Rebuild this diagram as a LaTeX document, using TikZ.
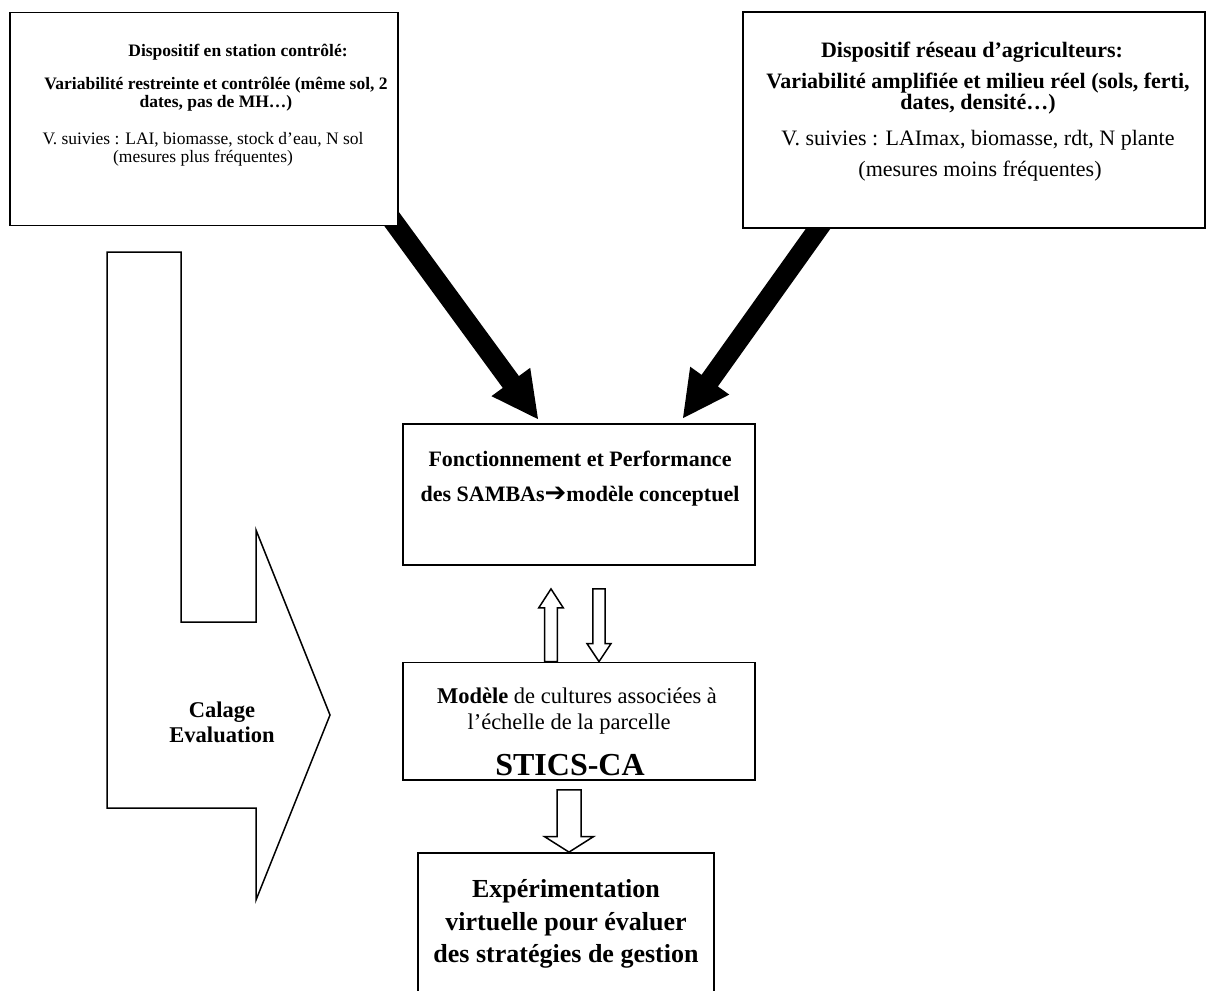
\documentclass[tikz,border=0pt]{standalone}
\usepackage{fontspec}
\setmainfont{Liberation Serif}
\newfontfamily\dejavu{DejaVu Sans}
\usetikzlibrary{calc,backgrounds}
\newcommand{\setfs}[2]{\fontsize{#1}{#2}\selectfont}
\newcommand{\blockarr}[7]{%
  \coordinate (#1b) at ($(#4)!#7!(#3)$);
  \path[#2] ($(#3)!#5!90:(#4)$) -- ($(#1b)!#5!90:(#4)$) -- ($(#1b)!#6!90:(#4)$) -- (#4)
    -- ($(#1b)!#6!-90:(#4)$) -- ($(#1b)!#5!-90:(#4)$) -- ($(#3)!#5!-90:(#4)$) -- cycle;
}
\tikzset{
  box/.style={draw, line width=1.8pt, fill=white, inner sep=0pt, rectangle},
  txt/.style={inner sep=0pt, align=center, text=black},
  hollow/.style={draw, line width=1.5pt, fill=white, line join=miter},
  solidarrow/.style={fill=black},
}
\begin{document}
\begin{tikzpicture}[x=1pt,y=-1pt]
\useasboundingbox (0,0) rectangle (1209,990);

% boxes
\node[box, minimum width=388pt, minimum height=213pt] (lbox) at (204,119) {};
\node[box, minimum width=462pt, minimum height=216pt] (rbox) at (974,120) {};
\node[box, minimum width=352pt, minimum height=141pt] (mbox) at (579,494.5) {};
\node[box, minimum width=352pt, minimum height=117.5pt] (mdl) at (579,721.25) {};
\node[box, minimum width=296pt, minimum height=160pt] (exp) at (566,933) {};

% big black arrows (behind boxes)
\coordinate (a1t) at ([xshift=-41pt,yshift=4pt]mbox.north);
\coordinate (a1e) at ([xshift=193pt]lbox.south);
\coordinate (a1s) at ($(a1t)!1.1!(a1e)$);
\coordinate (a2t) at ([xshift=104pt,yshift=5pt]mbox.north);
\coordinate (a2e) at ([xshift=-156pt]rbox.south);
\coordinate (a2s) at ($(a2t)!1.1!(a2e)$);
\begin{scope}[on background layer]
\blockarr{A}{solidarrow}{a1s}{a1t}{10pt}{24pt}{46pt}
\blockarr{B}{solidarrow}{a2s}{a2t}{10pt}{24pt}{46pt}
\end{scope}

% hollow arrows
\coordinate (u1s) at ([xshift=-28pt]mdl.north);
\coordinate (u1t) at ([xshift=-28pt,yshift=-23pt]mbox.south);
\blockarr{U}{hollow}{u1s}{u1t}{6.3pt}{12.3pt}{19pt}
\coordinate (d1s) at ([xshift=20pt,yshift=-23pt]mbox.south);
\coordinate (d1t) at ([xshift=20pt]mdl.north);
\blockarr{D}{hollow}{d1s}{d1t}{6.2pt}{12pt}{18pt}
\coordinate (d2s) at ([xshift=-10pt,yshift=-9pt]mdl.south);
\coordinate (d2t) at ([xshift=3pt]exp.north);
\blockarr{E}{hollow}{d2s}{d2t}{12pt}{24.5pt}{15.5pt}

% big left hollow arrow
\draw[hollow] (107,252) -- (181,252) -- (181,622) -- (256,622) -- (256,530)
  -- (330,715) -- (256,900) -- (256,808) -- (107,808) -- cycle;
\node[txt, font={\setfs{22.5}{25}\bfseries}] (calage) at (222,722) {Calage\\Evaluation};

% left box text
\node[txt, font={\setfs{17.5}{21}\bfseries}] (lt1) at (238,52) {Dispositif en station contrôlé:};
\node[txt, font={\setfs{17.5}{18}\bfseries}] (lt2) at (216,94) {Variabilité restreinte et contrôlée (même sol, 2\\dates, pas de MH…)};
\node[txt, font={\setfs{17.5}{18}}] (lt3) at (203,149) {V. suivies : LAI, biomasse, stock d’eau, N sol\\(mesures plus fréquentes)};

% right box text
\node[txt, font={\setfs{22}{26}\bfseries}] (rt1) at (972,52) {Dispositif réseau d’agriculteurs:};
\node[txt, font={\setfs{22}{18}\bfseries}] (rt2) at (978,94) {Variabilité amplifiée et milieu réel (sols, ferti,\\dates, densité…)};
\node[txt, font={\setfs{22}{26}}] (rt3) at (978,140) {V. suivies : LAImax, biomasse, rdt, N plante};
\node[txt, font={\setfs{22}{26}}] (rt4) at (980,171) {(mesures moins fréquentes)};

% middle box text
\node[txt, font={\setfs{22}{26}\bfseries}] (mt1) at (580,459) {Fonctionnement et Performance};
\node[txt, font={\setfs{22}{26}\bfseries}] (mt2) at (580,496) {des SAMBAs{\dejavu\setfs{26}{28}➔}modèle conceptuel};

% model box text
\node[txt, font={\setfs{22.5}{28}}] (md1) at (577,696) {\textbf{Modèle} de cultures associées à};
\node[txt, font={\setfs{22.5}{28}}] (md2) at (569,724) {l’échelle de la parcelle};
\node[txt, font={\setfs{32}{36}\bfseries}] (md3) at (570,765) {STICS-CA};

% bottom box text
\node[txt, font={\setfs{26}{32.5}\bfseries}] (ex1) at (566,924) {Expérimentation\\virtuelle pour évaluer\\des stratégies de gestion};
\end{tikzpicture}
\end{document}
